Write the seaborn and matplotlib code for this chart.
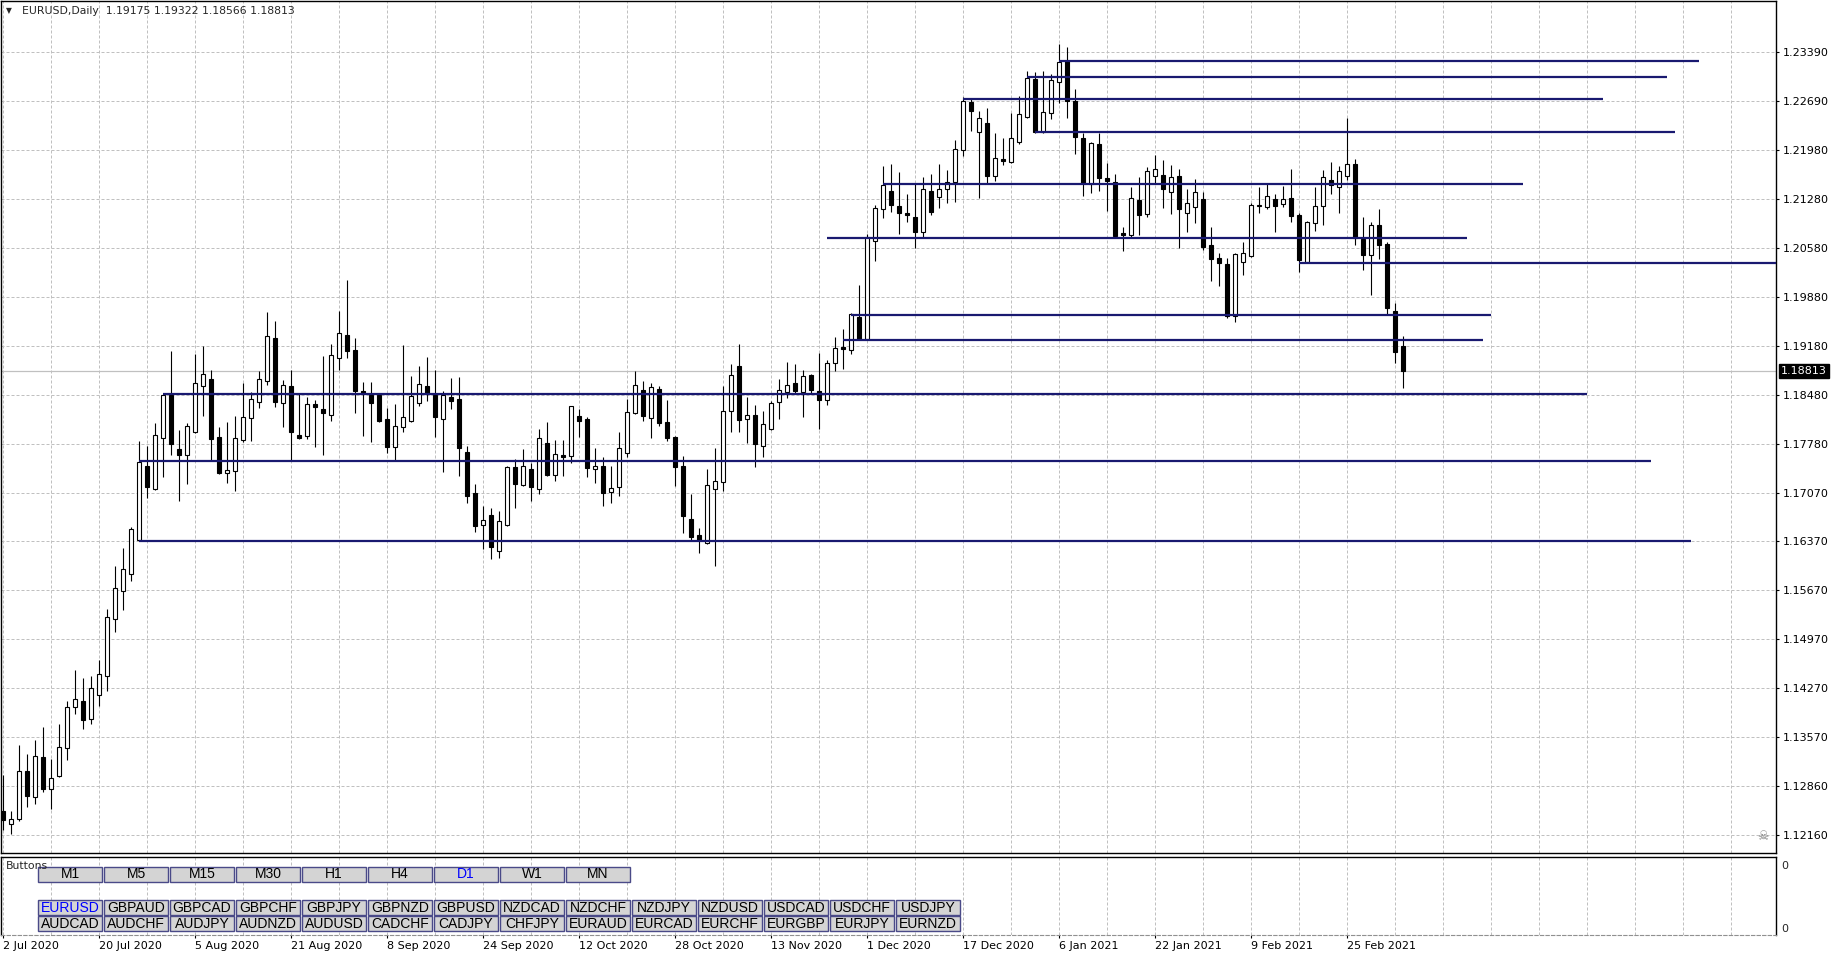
import numpy as np
import pandas as pd
import seaborn as sns
import matplotlib
matplotlib.use("Agg")
import matplotlib.pyplot as plt
from matplotlib.patches import Rectangle

W, H = 1840, 960

# ── Daily EURUSD candles, 2 Jul 2020 .. 8 Mar 2021 (one entry per bar) ──────
open_ = [
    1.1251, 1.1232, 1.1239, 1.1308, 1.1271, 1.1328, 1.1282, 1.1301,
    1.1341, 1.1400, 1.1408, 1.1383, 1.1417, 1.1444, 1.1526, 1.1566,
    1.1591, 1.1639, 1.1745, 1.1712, 1.1785, 1.1847, 1.1770, 1.1761,
    1.1794, 1.1860, 1.1870, 1.1787, 1.1735, 1.1738, 1.1783, 1.1814,
    1.1837, 1.1867, 1.1929, 1.1836, 1.1860, 1.1790, 1.1788, 1.1834,
    1.1827, 1.1818, 1.1900, 1.1933, 1.1912, 1.1853, 1.1847, 1.1847,
    1.1813, 1.1772, 1.1801, 1.1810, 1.1836, 1.1860, 1.1847, 1.1813,
    1.1844, 1.1841, 1.1765, 1.1707, 1.1661, 1.1675, 1.1623, 1.1661,
    1.1744, 1.1718, 1.1741, 1.1712, 1.1778, 1.1732, 1.1761, 1.1760,
    1.1817, 1.1813, 1.1741, 1.1745, 1.1708, 1.1715, 1.1764, 1.1821,
    1.1854, 1.1814, 1.1856, 1.1808, 1.1787, 1.1745, 1.1669, 1.1646,
    1.1635, 1.1712, 1.1722, 1.1824, 1.1889, 1.1813, 1.1818, 1.1774,
    1.1798, 1.1837, 1.1851, 1.1864, 1.1851, 1.1876, 1.1853, 1.1840,
    1.1893, 1.1916, 1.1912, 1.1959, 1.1927, 1.2068, 1.2113, 1.2139,
    1.2118, 1.2108, 1.2102, 1.2080, 1.2139, 1.2131, 1.2142, 1.2152,
    1.2198, 1.2267, 1.2224, 1.2237, 1.2161, 1.2185, 1.2181, 1.2210,
    1.2245, 1.2300, 1.2224, 1.2251, 1.2296, 1.2326, 1.2268, 1.2215,
    1.2149, 1.2207, 1.2158, 1.2152, 1.2079, 1.2076, 1.2127, 1.2106,
    1.2161, 1.2162, 1.2138, 1.2161, 1.2108, 1.2116, 1.2128, 1.2062,
    1.2043, 1.2035, 1.1960, 1.2038, 1.2046, 1.2118, 1.2116, 1.2128,
    1.2121, 1.2129, 1.2105, 1.2038, 1.2094, 1.2118, 1.2155, 1.2145,
    1.2161, 1.2178, 1.2071, 1.2048, 1.2091, 1.2063, 1.1967, 1.19175,
]
high = [
    1.1302, 1.1251, 1.1345, 1.1333, 1.1353, 1.1371, 1.1325, 1.1376,
    1.1409, 1.1453, 1.1441, 1.1444, 1.1467, 1.1540, 1.1602, 1.1628,
    1.1658, 1.1781, 1.1774, 1.1807, 1.1849, 1.1910, 1.1797, 1.1807,
    1.1906, 1.1917, 1.1883, 1.1801, 1.1808, 1.1817, 1.1864, 1.1851,
    1.1882, 1.1966, 1.1953, 1.1869, 1.1883, 1.1850, 1.1844, 1.1840,
    1.1903, 1.1920, 1.1967, 1.2012, 1.1929, 1.1866, 1.1866, 1.1848,
    1.1828, 1.1834, 1.1919, 1.1874, 1.1889, 1.1901, 1.1883, 1.1853,
    1.1871, 1.1873, 1.1774, 1.1720, 1.1688, 1.1685, 1.1681, 1.1746,
    1.1755, 1.1770, 1.1750, 1.1798, 1.1808, 1.1783, 1.1783, 1.1832,
    1.1827, 1.1816, 1.1771, 1.1758, 1.1746, 1.1794, 1.1841, 1.1882,
    1.1867, 1.1864, 1.1860, 1.1840, 1.1788, 1.1760, 1.1705, 1.1656,
    1.1741, 1.1771, 1.1860, 1.1891, 1.1920, 1.1844, 1.1833, 1.1824,
    1.1839, 1.1870, 1.1894, 1.1891, 1.1883, 1.1877, 1.1907, 1.1897,
    1.1930, 1.1942, 1.1965, 1.2005, 1.2078, 1.2119, 1.2175, 1.2178,
    1.2167, 1.2135, 1.2149, 1.2160, 1.2164, 1.2178, 1.2170, 1.2213,
    1.2274, 1.2273, 1.2254, 1.2258, 1.2222, 1.2216, 1.2251, 1.2275,
    1.2311, 1.2310, 1.2311, 1.2307, 1.2350, 1.2346, 1.2286, 1.2222,
    1.2210, 1.2222, 1.2180, 1.2164, 1.2088, 1.2145, 1.2160, 1.2174,
    1.2191, 1.2184, 1.2177, 1.2171, 1.2142, 1.2157, 1.2138, 1.2088,
    1.2051, 1.2043, 1.2051, 1.2066, 1.2122, 1.2145, 1.2151, 1.2135,
    1.2147, 1.2171, 1.2108, 1.2096, 1.2145, 1.2170, 1.2181, 1.2175,
    1.2244, 1.2185, 1.2102, 1.2095, 1.2114, 1.2066, 1.1979, 1.19322,
]
low = [
    1.1224, 1.1218, 1.1237, 1.1257, 1.1261, 1.1278, 1.1254, 1.1299,
    1.1324, 1.1390, 1.1368, 1.1376, 1.1401, 1.1423, 1.1507, 1.1539,
    1.1580, 1.1638, 1.1699, 1.1711, 1.1730, 1.1761, 1.1695, 1.1720,
    1.1792, 1.1817, 1.1754, 1.1734, 1.1721, 1.1710, 1.1780, 1.1781,
    1.1828, 1.1861, 1.1830, 1.1801, 1.1754, 1.1784, 1.1784, 1.1772,
    1.1761, 1.1810, 1.1883, 1.1900, 1.1821, 1.1788, 1.1780, 1.1809,
    1.1764, 1.1754, 1.1794, 1.1809, 1.1831, 1.1839, 1.1787, 1.1737,
    1.1827, 1.1731, 1.1692, 1.1651, 1.1626, 1.1612, 1.1613, 1.1659,
    1.1685, 1.1717, 1.1695, 1.1705, 1.1731, 1.1724, 1.1731, 1.1750,
    1.1787, 1.1730, 1.1721, 1.1688, 1.1692, 1.1702, 1.1758, 1.1820,
    1.1810, 1.1785, 1.1803, 1.1781, 1.1717, 1.1649, 1.1639, 1.1621,
    1.1634, 1.1602, 1.1710, 1.1794, 1.1794, 1.1778, 1.1744, 1.1758,
    1.1797, 1.1813, 1.1843, 1.1850, 1.1816, 1.1848, 1.1798, 1.1833,
    1.1882, 1.1884, 1.1906, 1.1926, 1.1926, 1.2039, 1.2101, 1.2109,
    1.2078, 1.2095, 1.2058, 1.2074, 1.2105, 1.2115, 1.2122, 1.2124,
    1.2190, 1.2225, 1.2129, 1.2151, 1.2154, 1.2177, 1.2180, 1.2207,
    1.2244, 1.2222, 1.2223, 1.2242, 1.2265, 1.2244, 1.2193, 1.2132,
    1.2137, 1.2139, 1.2111, 1.2074, 1.2053, 1.2074, 1.2076, 1.2102,
    1.2151, 1.2115, 1.2106, 1.2058, 1.2080, 1.2094, 1.2055, 1.2010,
    1.2003, 1.1957, 1.1952, 1.2019, 1.2045, 1.2108, 1.2113, 1.2080,
    1.2116, 1.2095, 1.2023, 1.2037, 1.2082, 1.2091, 1.2135, 1.2108,
    1.2155, 1.2062, 1.2026, 1.1991, 1.2042, 1.1962, 1.1893, 1.18566,
]
close = [
    1.1238, 1.1239, 1.1308, 1.1272, 1.1330, 1.1282, 1.1298, 1.1343,
    1.1400, 1.1411, 1.1381, 1.1427, 1.1447, 1.1529, 1.1570, 1.1598,
    1.1655, 1.1751, 1.1715, 1.1790, 1.1847, 1.1777, 1.1761, 1.1803,
    1.1864, 1.1877, 1.1784, 1.1735, 1.1740, 1.1785, 1.1816, 1.1841,
    1.1870, 1.1932, 1.1837, 1.1861, 1.1794, 1.1786, 1.1834, 1.1830,
    1.1821, 1.1904, 1.1936, 1.1910, 1.1853, 1.1850, 1.1836, 1.1810,
    1.1772, 1.1803, 1.1816, 1.1846, 1.1863, 1.1848, 1.1816, 1.1847,
    1.1839, 1.1771, 1.1702, 1.1659, 1.1668, 1.1629, 1.1666, 1.1744,
    1.1720, 1.1746, 1.1715, 1.1785, 1.1732, 1.1763, 1.1758, 1.1831,
    1.1810, 1.1742, 1.1745, 1.1707, 1.1714, 1.1771, 1.1823, 1.1861,
    1.1817, 1.1858, 1.1807, 1.1785, 1.1744, 1.1674, 1.1644, 1.1639,
    1.1718, 1.1724, 1.1824, 1.1876, 1.1811, 1.1818, 1.1777, 1.1806,
    1.1836, 1.1854, 1.1861, 1.1853, 1.1874, 1.1854, 1.1840, 1.1893,
    1.1914, 1.1913, 1.1963, 1.1927, 1.2074, 1.2115, 1.2148, 1.2119,
    1.2108, 1.2105, 1.2080, 1.2142, 1.2109, 1.2142, 1.2152, 1.2200,
    1.2268, 1.2254, 1.2244, 1.2161, 1.2187, 1.2182, 1.2215, 1.2250,
    1.2301, 1.2224, 1.2253, 1.2299, 1.2324, 1.2268, 1.2217, 1.2151,
    1.2208, 1.2158, 1.2154, 1.2075, 1.2076, 1.2129, 1.2105, 1.2168,
    1.2171, 1.2142, 1.2160, 1.2113, 1.2122, 1.2138, 1.2059, 1.2042,
    1.2036, 1.1960, 1.2049, 1.2051, 1.2119, 1.2119, 1.2132, 1.2118,
    1.2128, 1.2104, 1.2041, 1.2095, 1.2118, 1.2160, 1.2148, 1.2168,
    1.2178, 1.2072, 1.2048, 1.2091, 1.2062, 1.1972, 1.1909, 1.18813,
]

# support / resistance levels: price, first bar, last bar
level_price = [1.2326, 1.2303, 1.2271, 1.2224, 1.2149, 1.2072,
               1.2036, 1.1961, 1.1926, 1.1848, 1.1752, 1.1638]
level_start = [132, 128, 120, 129, 110, 103, 162, 106, 105, 20, 17, 17]
level_end = [212, 208, 200, 209, 190, 183, 222, 186, 185, 198, 206, 211]

price_ticks = ["1.23390", "1.22690", "1.21980", "1.21280", "1.20580", "1.19880",
               "1.19180", "1.18480", "1.17780", "1.17070", "1.16370", "1.15670",
               "1.14970", "1.14270", "1.13570", "1.12860", "1.12160"]
date_labels = ["2 Jul 2020", "20 Jul 2020", "5 Aug 2020", "21 Aug 2020",
               "8 Sep 2020", "24 Sep 2020", "12 Oct 2020", "28 Oct 2020",
               "13 Nov 2020", "1 Dec 2020", "17 Dec 2020", "6 Jan 2021",
               "22 Jan 2021", "9 Feb 2021", "25 Feb 2021"]
last_price = 1.18813

tf_buttons = ["M1", "M5", "M15", "M30", "H1", "H4", "D1", "W1", "MN"]
pair_row1 = ["EURUSD", "GBPAUD", "GBPCAD", "GBPCHF", "GBPJPY", "GBPNZD", "GBPUSD",
             "NZDCAD", "NZDCHF", "NZDJPY", "NZDUSD", "USDCAD", "USDCHF", "USDJPY"]
pair_row2 = ["AUDCAD", "AUDCHF", "AUDJPY", "AUDNZD", "AUDUSD", "CADCHF", "CADJPY",
             "CHFJPY", "EURAUD", "EURCAD", "EURCHF", "EURGBP", "EURJPY", "EURNZD"]
active = {"D1", "EURUSD"}

# ── style ─────────────────────────────────────────────────────────────────────
sns.set_theme(style="white")
plt.rcParams["font.family"] = ["DejaVu Sans"]

GRID = "#c0c0c0"
DASH = (0, (3, 2))
LEVEL = "#191970"


def fx(px):
    return px / W


def fy(py):
    return 1 - py / H


df = pd.DataFrame({"o": open_, "h": high, "l": low, "c": close})
df["i"] = np.arange(len(df))
bull = df["c"] >= df["o"]

fig = plt.figure(figsize=(W / 100, H / 100), dpi=100)
fig.patch.set_facecolor("white")

# ── main price pane ──────────────────────────────────────────────────────────
ax = fig.add_axes([fx(1), fy(853), fx(1776) - fx(1), fy(1) - fy(853)])
ax.set_facecolor("white")
ax.set_xlim(-0.29, 221.6)
ax.set_ylim(1.11907, 1.24117)

ax.axhline(last_price, color=GRID, lw=0.9, zorder=1)
ax.vlines(df["i"], df["l"], df["h"], color="black", lw=0.8, zorder=2)
ax.bar(df["i"], df["c"] - df["o"], bottom=df["o"], width=0.5,
       color=np.where(bull, "white", "black"), edgecolor="black",
       linewidth=0.8, zorder=3)
ax.hlines(level_price, level_start, level_end, color=LEVEL, lw=1.6, zorder=4)

ax.set_xticks(np.arange(0, 222, 6))
ax.set_yticks(np.linspace(1.2339, 1.1216, len(price_ticks)))
ax.set_yticklabels(price_ticks)
ax.grid(True, color=GRID, linestyle=DASH, lw=0.72, zorder=0)
ax.set_axisbelow(True)
ax.yaxis.tick_right()
ax.tick_params(axis="x", length=0, labelbottom=False)
ax.tick_params(axis="y", direction="out", length=2.5, width=0.8, pad=2.5,
               labelsize=8, colors="black", right=True, left=False)
for s in ax.spines.values():
    s.set_color("black")
    s.set_linewidth(1.0)

fig.text(fx(6), fy(11), "\u25bc", fontsize=5.5, va="center", ha="left")
fig.text(fx(22), fy(11), "EURUSD,Daily  1.19175 1.19322 1.18566 1.18813",
         fontsize=7.8, va="center", ha="left")
fig.text(fx(1781), fy(371), "1.18813", fontsize=8, color="white", va="center",
         ha="left", bbox=dict(boxstyle="square,pad=0.15", fc="black", ec="black"))
fig.text(fx(1763), fy(837), "\u2620", fontsize=9, color="#808080",
         va="center", ha="center")

# ── "Buttons" sub-window ──────────────────────────────────────────────────────
ax2 = fig.add_axes([fx(1), fy(935), fx(1776) - fx(1), fy(857) - fy(935)])
ax2.set_facecolor("white")
ax2.set_xlim(-0.29, 221.6)
ax2.set_ylim(0, 1)
ax2.set_yticks([])
ax2.set_xticks(np.arange(0, 12 * len(date_labels), 12))
ax2.set_xticklabels(date_labels, ha="left")
ax2.set_xticks(np.arange(0, 222, 6), minor=True)
ax2.grid(True, which="both", axis="x", color=GRID, linestyle=DASH, lw=0.72)
ax2.tick_params(axis="x", which="major", direction="out", length=2.5,
                width=0.8, pad=2, labelsize=8, colors="black", bottom=True)
ax2.tick_params(axis="x", which="minor", length=0)
for s in ax2.spines.values():
    s.set_color("black")
    s.set_linewidth(1.0)
ax2.spines["bottom"].set_linestyle(DASH)
ax2.spines["bottom"].set_color("#909090")
ax2.spines["bottom"].set_linewidth(0.8)

fig.text(fx(1781), fy(866), "0", fontsize=8, va="center", ha="left")
fig.text(fx(1781), fy(929), "0", fontsize=8, va="center", ha="left")
fig.text(fx(6), fy(866), "Buttons", fontsize=7.8, va="center", ha="left")


def button(x0, y0, label):
    fig.add_artist(Rectangle((fx(x0), fy(y0 + 15)), 64 / W, 15 / H,
                             transform=fig.transFigure, fc="#d4d4d4",
                             ec="#4a4a88", lw=1.0))
    fig.text(fx(x0 + 32), fy(y0 + 7.5), label, fontsize=10,
             family="Liberation Sans", va="center", ha="center",
             color="#0000ff" if label in active else "black")


for k, name in enumerate(tf_buttons):
    button(38 + 66 * k, 867, name)
for k, name in enumerate(pair_row1):
    button(38 + 66 * k, 900, name)
for k, name in enumerate(pair_row2):
    button(38 + 66 * k, 916, name)

fig.savefig("out.png", dpi=100, facecolor="white")
